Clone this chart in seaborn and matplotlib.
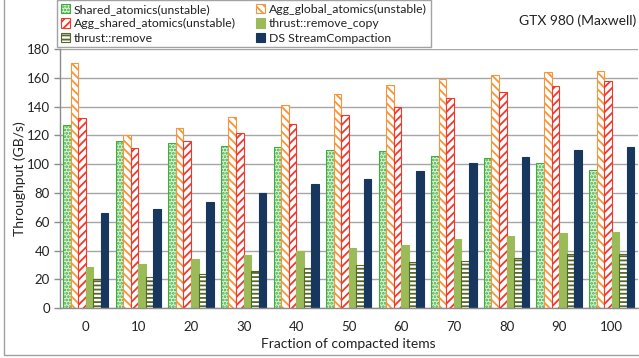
import numpy as np
import pandas as pd
import seaborn as sns
import matplotlib
matplotlib.use("Agg")
import matplotlib.pyplot as plt
from matplotlib.patches import Patch, Rectangle

# Throughput (GB/s) per fraction of compacted items
fractions = ["0", "10", "20", "30", "40", "50", "60", "70", "80", "90", "100"]
shared_atomics = [127, 116, 115, 113, 112, 110, 109, 106, 104, 101, 96]
agg_global_atomics = [170, 120, 125, 133, 141, 149, 155, 159, 162, 164, 165]
agg_shared_atomics = [132, 111, 116, 122, 128, 134, 140, 146, 150, 154, 158]
thrust_remove_copy = [29, 31, 34, 37, 40, 42, 44, 48, 50, 52, 53]
thrust_remove = [20, 22, 24, 26, 28, 30, 32, 33, 35, 38, 38]
ds_stream_compaction = [66, 69, 74, 80, 86, 90, 95, 101, 105, 110, 112]

series_names = [
    "Shared_atomics(unstable)",
    "Agg_global_atomics(unstable)",
    "Agg_shared_atomics(unstable)",
    "thrust::remove_copy",
    "thrust::remove",
    "DS StreamCompaction",
]
series_values = [shared_atomics, agg_global_atomics, agg_shared_atomics,
                 thrust_remove_copy, thrust_remove, ds_stream_compaction]

df = pd.DataFrame({
    "fraction": np.tile(fractions, len(series_names)),
    "series": np.repeat(series_names, len(fractions)),
    "throughput": np.concatenate(series_values),
})

# fill / edge / hatch per series
styles = {
    "Shared_atomics(unstable)": dict(facecolor="#dcf2d6", edgecolor="#3fae3f", hatch="....."),
    "Agg_global_atomics(unstable)": dict(facecolor="white", edgecolor="#f7953a", hatch="\\\\\\\\"),
    "Agg_shared_atomics(unstable)": dict(facecolor="white", edgecolor="#f5362a", hatch="////"),
    "thrust::remove_copy": dict(facecolor="#9bbb59", edgecolor="#9bbb59", hatch=None),
    "thrust::remove": dict(facecolor="white", edgecolor="#56692a", hatch="----"),
    "DS StreamCompaction": dict(facecolor="#17375e", edgecolor="#17375e", hatch=None),
}

sns.set_theme(style="white")
plt.rcParams["font.family"] = ["Lato", "DejaVu Sans"]
plt.rcParams["hatch.linewidth"] = 1.3

fig = plt.figure(figsize=(6.39, 3.58), dpi=100)
ax = fig.add_axes([59.5 / 639, 1 - 308.3 / 358, (638 - 59.5) / 639, (308.3 - 49) / 358])

sns.barplot(data=df, x="fraction", y="throughput", hue="series",
            order=fractions, hue_order=series_names, width=0.86,
            ax=ax, legend=False, errorbar=None)

for name, container in zip(series_names, ax.containers):
    st = styles[name]
    for bar in container:
        bar.set_facecolor(st["facecolor"])
        bar.set_edgecolor(st["edgecolor"])
        bar.set_linewidth(0.8)
        if st["hatch"]:
            bar.set_hatch(st["hatch"])

ax.set_ylim(0, 180)
ax.set_xlim(-0.5, len(fractions) - 0.5)
ax.set_yticks(np.arange(0, 181, 20))
ax.yaxis.grid(True, color="#a6a6a6", linewidth=1.0)
ax.set_axisbelow(True)

for side in ("top", "right"):
    ax.spines[side].set_visible(False)
for side in ("left", "bottom"):
    ax.spines[side].set_color("#8c8c8c")
    ax.spines[side].set_linewidth(1.0)

# category separators on the x axis
ax.set_xticks(np.arange(len(fractions)))
ax.set_xticklabels(fractions)
ax.set_xticks(np.arange(len(fractions)) + 0.5, minor=True)
ax.tick_params(axis="x", which="major", length=0, pad=9, labelsize=9.5, colors="#222222")
ax.tick_params(axis="x", which="minor", length=4, color="#8c8c8c", width=1)
ax.tick_params(axis="y", which="major", length=4, color="#8c8c8c", width=1,
               labelsize=9.5, pad=3, labelcolor="#222222", left=True)

ax.set_xlabel("Fraction of compacted items", fontsize=10, color="#222222", labelpad=4)
ax.set_ylabel("Throughput (GB/s)", fontsize=10, color="#222222")
ax.yaxis.set_label_coords(26 / 639, 0.5, transform=fig.transFigure)

# legend: row-wise order in two columns
handles = {n: Patch(facecolor=styles[n]["facecolor"], edgecolor=styles[n]["edgecolor"],
                    hatch=styles[n]["hatch"], linewidth=0.8) for n in series_names}
col_order = [series_names[0], series_names[2], series_names[4],
             series_names[1], series_names[3], series_names[5]]
leg = fig.legend([handles[n] for n in col_order], col_order, ncol=2,
                 loc="upper left", bbox_to_anchor=(57 / 639, 1.0),
                 fontsize=8.8, frameon=True, fancybox=False, borderpad=0.3,
                 handlelength=0.8, handleheight=0.8, handletextpad=0.3,
                 columnspacing=1.6, labelspacing=0.28, borderaxespad=0)
leg.get_frame().set_edgecolor("#8c8c8c")
leg.get_frame().set_linewidth(1.0)
for t in leg.get_texts():
    t.set_color("#222222")

fig.text(636 / 639, 1 - 21 / 358, "GTX 980 (Maxwell)", ha="right", va="center",
         fontsize=10, color="#222222")

# outer chart border
fig.patches.append(Rectangle((4 / 639, 3 / 358), 1.2, 1.2, transform=fig.transFigure,
                             fill=False, edgecolor="#a0a0a0", linewidth=1.0))

fig.savefig("out.png", dpi=100)
